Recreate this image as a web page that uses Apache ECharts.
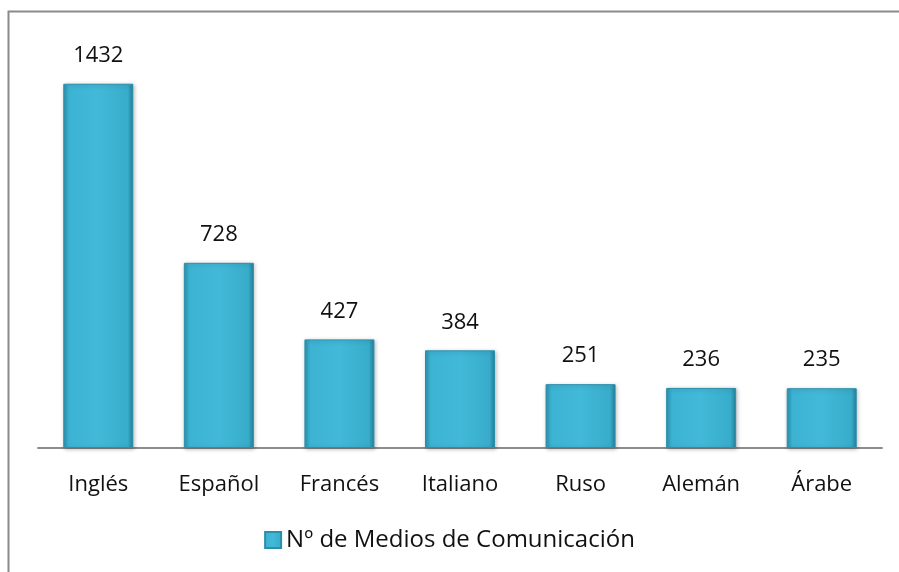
<!DOCTYPE html>
<html><head><meta charset="utf-8">
<script src="https://cdn.jsdelivr.net/npm/echarts@6/dist/echarts.min.js"></script>
<style>html,body{margin:0;padding:0;background:#fff}#c{width:899px;height:572px}</style>
</head><body><div id="c"></div>
<script>
const categories = ['Inglés','Español','Francés','Italiano','Ruso','Alemán','Árabe'];
const values = [1432, 728, 427, 384, 251, 236, 235];
const seriesName = 'Nº de Medios de Comunicación';

const font = '"Open Sans", sans-serif';
const chart = echarts.init(document.getElementById('c'));
const barColor = {
  type: 'linear', x: 0, y: 0, x2: 1, y2: 0,
  colorStops: [
    {offset: 0, color: '#2a93b0'},
    {offset: 0.08, color: '#3db3d3'},
    {offset: 0.5, color: '#42b9d9'},
    {offset: 0.92, color: '#38acca'},
    {offset: 1, color: '#24819b'}
  ]
};
chart.setOption({
  animation: false,
  graphic: [{
    type: 'rect', shape: {x: 8.5, y: 11.5, width: 3000, height: 3000},
    style: {fill: 'none', stroke: '#8a8a8a', lineWidth: 2}, z: -1
  }],
  grid: {left: 38, right: 17, top: 41, height: 407},
  legend: {
    data: [seriesName], top: 523, left: 'center',
    icon: 'rect', itemWidth: 16, itemHeight: 16, itemGap: 5,
    textStyle: {fontFamily: font, fontSize: 24, color: '#111'}
  },
  xAxis: {
    type: 'category', data: categories,
    axisLine: {lineStyle: {color: '#8c8c8c', width: 2}},
    axisTick: {show: false},
    axisLabel: {fontFamily: font, fontSize: 22, color: '#111', margin: 26}
  },
  yAxis: {type: 'value', min: 0, max: 1600, show: false, splitLine: {show: false}},
  series: [{
    name: seriesName, type: 'bar', data: values, barWidth: 70,
    itemStyle: {color: barColor, borderColor: '#2b8fab', borderWidth: 1,
      shadowColor: 'rgba(0,0,0,0.25)', shadowBlur: 4, shadowOffsetX: 1, shadowOffsetY: 1},
    label: {show: true, position: 'top', distance: 17, fontFamily: font, fontSize: 22, color: '#111'}
  }]
});
</script></body></html>
